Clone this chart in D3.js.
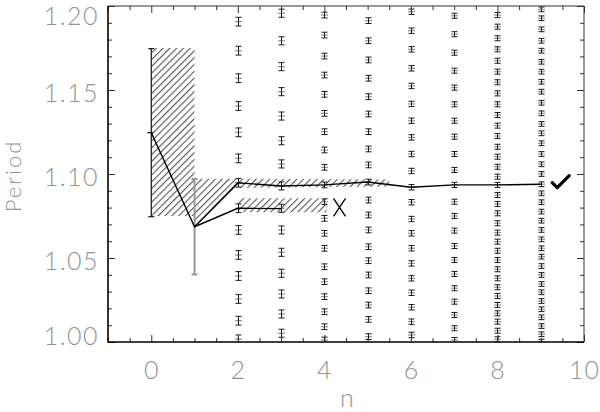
<!DOCTYPE html>
<html>
<head>
<meta charset="utf-8">
<script src="https://cdn.jsdelivr.net/npm/d3@7"></script>
<style>
  html, body { margin: 0; padding: 0; background: #fff; }
  svg { display: block; }
  .lbl { font-family: "Lato", "DejaVu Sans", sans-serif; font-weight: 300; fill: #929292; }
</style>
</head>
<body>
<div id="chart"></div>
<script>
// Axis ranges and tick values
const xDomain = [-1, 10];
const yDomain = [1.0, 1.2];
const xMajor = [0, 2, 4, 6, 8, 10];
const yMajor = [1.00, 1.05, 1.10, 1.15, 1.20];

// Trial periods for each n (small error bars)
const gridN = [2, 3, 4, 5, 6, 7, 8, 9];
const gridErr = [0.0026, 0.0024, 0.0017, 0.0017, 0.0016, 0.0015, 0.0015, 0.0014];
const gridP2 = [1.1907, 1.1734, 1.1570, 1.1405, 1.1248, 1.1093, 1.0948, 1.0796, 1.0667, 1.0518, 1.0393, 1.0256, 1.0127, 1.0016];
const gridP3 = [1.1957, 1.1793, 1.1639, 1.1490, 1.1345, 1.1198, 1.1060, 1.0929, 1.0796, 1.0667, 1.0534, 1.0409, 1.0286, 1.0167, 1.0052];
const gridP4 = [1.1946, 1.1827, 1.1702, 1.1589, 1.1474, 1.1361, 1.1252, 1.1143, 1.1040, 1.0935, 1.0835, 1.0736, 1.0647, 1.0558, 1.0448, 1.0359, 1.0270, 1.0180, 1.0091, 1.0012];
const gridP5 = [1.1913, 1.1793, 1.1679, 1.1570, 1.1460, 1.1357, 1.1252, 1.1149, 1.1054, 1.0952, 1.0845, 1.0756, 1.0667, 1.0567, 1.0484, 1.0399, 1.0305, 1.0220, 1.0135, 1.0032];
const gridP6 = [1.1966, 1.1853, 1.1742, 1.1629, 1.1524, 1.1417, 1.1317, 1.1218, 1.1119, 1.1018, 1.0921, 1.0832, 1.0732, 1.0647, 1.0558, 1.0468, 1.0379, 1.0293, 1.0207, 1.0121, 1.0042];
const gridP7 = [1.1942, 1.1832, 1.1722, 1.1615, 1.1514, 1.1415, 1.1317, 1.1222, 1.1119, 1.1024, 1.0935, 1.0835, 1.0750, 1.0663, 1.0571, 1.0488, 1.0405, 1.0320, 1.0240, 1.0161, 1.0082, 1.0012];
const gridP8 = [1.1946, 1.1877, 1.1808, 1.1742, 1.1674, 1.1609, 1.1546, 1.1480, 1.1415, 1.1351, 1.1288, 1.1226, 1.1162, 1.1103, 1.1043, 1.0984, 1.0935, 1.0875, 1.0821, 1.0766, 1.0707, 1.0651, 1.0597, 1.0543, 1.0488, 1.0433, 1.0379, 1.0326, 1.0274, 1.0220, 1.0171, 1.0121, 1.0067, 1.0016];
const gridP9 = [1.1980, 1.1927, 1.1861, 1.1793, 1.1734, 1.1668, 1.1609, 1.1549, 1.1490, 1.1424, 1.1361, 1.1298, 1.1242, 1.1183, 1.1119, 1.1058, 1.1000, 1.0939, 1.0885, 1.0832, 1.0776, 1.0722, 1.0667, 1.0611, 1.0558, 1.0508, 1.0452, 1.0399, 1.0345, 1.0296, 1.0244, 1.0195, 1.0147, 1.0095, 1.0046, 1.0002];
const gridP = [gridP2, gridP3, gridP4, gridP5, gridP6, gridP7, gridP8, gridP9];

// Best-period track (upper) and the alternative track (lower)
const mainN = [0, 1, 2, 3, 4, 5, 6, 7, 8, 9];
const mainP = [1.1246, 1.0686, 1.0948, 1.0929, 1.0935, 1.0952, 1.0921, 1.0935, 1.0935, 1.0939];
const altN = [1, 2, 3];
const altP = [1.0686, 1.0796, 1.0794];

// Error bars of the first two estimates
const bigN = [0, 1];
const bigP = [1.1246, 1.0686];
const bigErr = [0.0500, 0.0284];

// Hatched uncertainty regions (polygon outlines in n, P)
const hatchUpperN = [0, 0, 1, 1, 2, 5.5, 5.5, 2, 1, 1];
const hatchUpperP = [1.075, 1.175, 1.175, 1.097, 1.0972, 1.0968, 1.0925, 1.0918, 1.0686, 1.075];
const hatchLowerN = [2, 4.05, 4.05, 2];
const hatchLowerP = [1.0855, 1.0855, 1.0772, 1.0772];

// Markers: rejected and accepted
const rejectN = 4.35, rejectP = 1.0801;
const acceptN = 9.45, acceptP = 1.0954;

const W = 600, H = 412;
const L = 108, R = 584, T = 6, B = 342;

const x = d3.scaleLinear().domain(xDomain).range([L, R]);
const y = d3.scaleLinear().domain(yDomain).range([B, T]);

const svg = d3.select("#chart").append("svg")
    .attr("width", W)
    .attr("height", H);

const defs = svg.append("defs");
defs.append("pattern")
    .attr("id", "hatch")
    .attr("patternUnits", "userSpaceOnUse")
    .attr("width", 4.8)
    .attr("height", 4.8)
    .attr("patternTransform", "rotate(45)")
  .append("line")
    .attr("x1", 0.6).attr("y1", 0)
    .attr("x2", 0.6).attr("y2", 4.8)
    .attr("stroke", "#444")
    .attr("stroke-width", 1);
defs.append("clipPath").attr("id", "plot")
  .append("rect").attr("x", L).attr("y", T).attr("width", R - L).attr("height", B - T);

const plot = svg.append("g").attr("clip-path", "url(#plot)");

// hatched regions
const poly = (ns, ps) => d3.line()(ns.map((n, i) => [x(n), y(ps[i])])) + "Z";
plot.append("path").attr("d", poly(hatchUpperN, hatchUpperP)).attr("fill", "url(#hatch)");
plot.append("path").attr("d", poly(hatchLowerN, hatchLowerP)).attr("fill", "url(#hatch)");

// grid of small error bars
gridN.forEach((n, k) => {
    const g = plot.append("g");
    const e = gridErr[k];
    const cx = Math.round(x(n)) + 0.5;
    const pts = g.selectAll("g").data(gridP[k]).join("g");
    pts.append("line")
        .attr("x1", cx - 3.5).attr("x2", cx + 3.5)
        .attr("y1", d => y(d)).attr("y2", d => y(d))
        .attr("stroke", "#999").attr("stroke-width", 1.3);
    pts.append("line")
        .attr("x1", cx).attr("x2", cx)
        .attr("y1", d => y(d + e)).attr("y2", d => y(d - e))
        .attr("stroke", "#1a1a1a").attr("stroke-width", 1);
    pts.append("line")
        .attr("x1", cx - 3).attr("x2", cx + 3)
        .attr("y1", d => y(d + e)).attr("y2", d => y(d + e))
        .attr("stroke", "#1a1a1a").attr("stroke-width", 1);
    pts.append("line")
        .attr("x1", cx - 3).attr("x2", cx + 3)
        .attr("y1", d => y(d - e)).attr("y2", d => y(d - e))
        .attr("stroke", "#1a1a1a").attr("stroke-width", 1);
});

// error bars for n = 0 and n = 1
const bigColor = ["#111", "#999"];
const bigWidth = [1.2, 2];
bigN.forEach((n, i) => {
    const cx = x(n), top = y(bigP[i] + bigErr[i]), bot = y(bigP[i] - bigErr[i]);
    const g = svg.append("g").attr("stroke", bigColor[i]).attr("stroke-width", bigWidth[i]);
    g.append("line").attr("x1", cx).attr("x2", cx).attr("y1", top).attr("y2", bot);
    g.append("line").attr("x1", cx - 3).attr("x2", cx + 3).attr("y1", top).attr("y2", top);
    g.append("line").attr("x1", cx - 3).attr("x2", cx + 3).attr("y1", bot).attr("y2", bot);
});
svg.append("line")
    .attr("x1", x(0) - 4).attr("x2", x(0) + 2)
    .attr("y1", y(bigP[0])).attr("y2", y(bigP[0]))
    .attr("stroke", "#111").attr("stroke-width", 1.2);

// tracks
const line = d3.line().x(d => x(d[0])).y(d => y(d[1]));
svg.append("path")
    .attr("d", line(mainN.map((n, i) => [n, mainP[i]])))
    .attr("fill", "none").attr("stroke", "#000").attr("stroke-width", 1.4);
svg.append("path")
    .attr("d", line(altN.map((n, i) => [n, altP[i]])))
    .attr("fill", "none").attr("stroke", "#000").attr("stroke-width", 1.4);

// reject cross and accept tick
const rx = x(rejectN), ry = y(rejectP);
svg.append("path")
    .attr("d", `M${rx - 6},${ry - 9}L${rx + 6},${ry + 9}M${rx + 6},${ry - 9}L${rx - 6},${ry + 9}`)
    .attr("stroke", "#000").attr("stroke-width", 1.3).attr("fill", "none");
const ax = x(acceptN), ay = y(acceptP);
svg.append("path")
    .attr("d", `M${ax - 8},${ay + 1}L${ax - 3},${ay + 6}L${ax + 9},${ay - 6}`)
    .attr("stroke", "#000").attr("stroke-width", 3.2).attr("fill", "none")
    .attr("stroke-linejoin", "round").attr("stroke-linecap", "round");

// axes
const xMinor = d3.range(-1, 10.01, 0.5).filter(v => !xMajor.includes(v));
const yMinor = d3.range(1.0, 1.2001, 0.01).map(v => +v.toFixed(2)).filter(v => !yMajor.some(m => Math.abs(m - v) < 1e-6));

function styleTicks(g) {
    g.select(".domain").remove();
    g.selectAll(".tick line").attr("stroke", "#333").attr("stroke-width", 1);
}

const gx = svg.append("g").attr("transform", `translate(0,${B})`)
    .call(d3.axisBottom(x).tickValues(xMajor).tickSize(-7).tickPadding(19).tickFormat(d3.format("d")))
    .call(styleTicks);
svg.append("g").attr("transform", `translate(0,${B})`)
    .call(d3.axisBottom(x).tickValues(xMinor).tickSize(-4).tickFormat(""))
    .call(styleTicks);
svg.append("g").attr("transform", `translate(0,${T})`)
    .call(d3.axisTop(x).tickValues(xMajor).tickSize(-7).tickFormat(""))
    .call(styleTicks);
svg.append("g").attr("transform", `translate(0,${T})`)
    .call(d3.axisTop(x).tickValues(xMinor).tickSize(-4).tickFormat(""))
    .call(styleTicks);

const gy = svg.append("g").attr("transform", `translate(${L},0)`)
    .call(d3.axisLeft(y).tickValues(yMajor).tickSize(-7).tickPadding(9).tickFormat(d3.format(".2f")))
    .call(styleTicks);
svg.append("g").attr("transform", `translate(${L},0)`)
    .call(d3.axisLeft(y).tickValues(yMinor).tickSize(-4).tickFormat(""))
    .call(styleTicks);
svg.append("g").attr("transform", `translate(${R},0)`)
    .call(d3.axisRight(y).tickValues(yMajor).tickSize(-7).tickFormat(""))
    .call(styleTicks);
svg.append("g").attr("transform", `translate(${R},0)`)
    .call(d3.axisRight(y).tickValues(yMinor).tickSize(-4).tickFormat(""))
    .call(styleTicks);

// tick label styling (IDL-like thin grey labels; end labels kept inside the frame)
gx.selectAll(".tick text").attr("class", "lbl").attr("font-size", 25).attr("letter-spacing", 1);
gy.selectAll(".tick text").attr("class", "lbl").attr("font-size", 25).attr("letter-spacing", 1.5)
    .attr("dy", "0.36em")
    .attr("y", d => {
        const p = y(d) + 2;
        return Math.min(Math.max(p, T + 9), B - 7) - y(d);
    });

// frame
svg.append("path")
    .attr("d", `M${L},${T}H${R}V${B}`)
    .attr("fill", "none").attr("stroke", "#333").attr("stroke-width", 1);
svg.append("path")
    .attr("d", `M${L},${T}V${B}H${R}`)
    .attr("fill", "none").attr("stroke", "#000").attr("stroke-width", 1.6);

// axis titles
svg.append("text").attr("class", "lbl")
    .attr("x", (L + R) / 2 + 1).attr("y", 407)
    .attr("text-anchor", "middle").attr("font-size", 25)
    .text("n");
svg.append("text").attr("class", "lbl")
    .attr("transform", `translate(21,176) rotate(-90)`)
    .attr("text-anchor", "middle").attr("font-size", 22).attr("letter-spacing", 2)
    .text("Period");
</script>
</body>
</html>
